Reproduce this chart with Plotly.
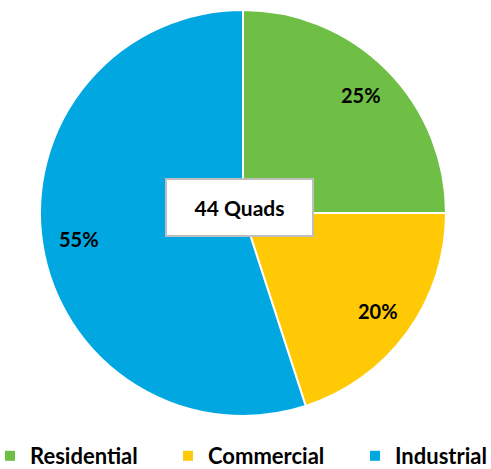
import math
import plotly.graph_objects as go

categories = ["Residential", "Commercial", "Industrial"]
shares = [25, 20, 55]
colors = ["#6FBE46", "#FFCA05", "#00A7E0"]
center_label = "44 Quads"

# style / layout settings
W, H = 491, 469
pie_left, pie_right, pie_top, pie_bottom = 40, 446, 10, 416
label_radius = 0.82          # fraction of pie radius for % labels
legend_x = [-10, 168, 355]   # px of legend entries
FONT = "Lato"

fig = go.Figure()
fig.add_trace(go.Pie(
    labels=categories,
    values=shares,
    sort=False,
    direction="clockwise",
    rotation=0,
    marker=dict(colors=colors, line=dict(color="white", width=2)),
    textinfo="none",
    domain=dict(x=[pie_left / W, pie_right / W], y=[1 - pie_bottom / H, 1 - pie_top / H]),
    showlegend=False,
    hoverinfo="label+percent",
))

# percent labels placed from the cumulative shares
total = sum(shares)
cx = (pie_left + pie_right) / 2
cy = (pie_top + pie_bottom) / 2
R = (pie_right - pie_left) / 2
cum = 0
for v in shares:
    mid = (cum + v / 2) / total * 360
    cum += v
    px = cx + label_radius * R * math.sin(math.radians(mid))
    py = cy - label_radius * R * math.cos(math.radians(mid))
    fig.add_annotation(
        x=px / W, y=1 - py / H, xref="paper", yref="paper",
        text=f"<b>{round(v / total * 100)}%</b>", showarrow=False,
        font=dict(family=FONT, size=20, color="black"),
        xanchor="center", yanchor="middle",
    )

fig.add_annotation(
    x=239.5 / W, y=1 - 207.5 / H, xref="paper", yref="paper",
    text="<b>" + center_label + "</b>", showarrow=False,
    font=dict(family=FONT, size=21, color="black"),
    bgcolor="white", bordercolor="#BEBEBE", borderwidth=2,
    width=143, height=53, xanchor="center", yanchor="middle",
)

# legend entries: one legend per category so each can sit where the reference puts it
legend_names = ["legend", "legend2", "legend3"]
for name, col, lg in zip(categories, colors, legend_names):
    fig.add_trace(go.Scatter(
        x=[None], y=[None], mode="markers", name=name,
        marker=dict(symbol="square", size=10, color=col),
        legend=lg, showlegend=True, hoverinfo="skip",
    ))

legend_common = dict(
    orientation="h", xanchor="left", yanchor="middle", y=1 - 456 / H,
    font=dict(family=FONT, size=22, color="black", weight="bold"),
    bgcolor="rgba(0,0,0,0)", itemwidth=30,
)
layout_legends = {}
for lg, lx in zip(legend_names, legend_x):
    layout_legends[lg] = dict(legend_common, x=lx / W)

fig.update_layout(
    width=W, height=H,
    margin=dict(l=0, r=0, t=0, b=0, autoexpand=False),
    paper_bgcolor="white",
    plot_bgcolor="white",
    xaxis=dict(visible=False),
    yaxis=dict(visible=False),
    **layout_legends,
)

fig.write_html("out.html", config={"displayModeBar": False},
               post_script="document.body.style.margin='0';")
